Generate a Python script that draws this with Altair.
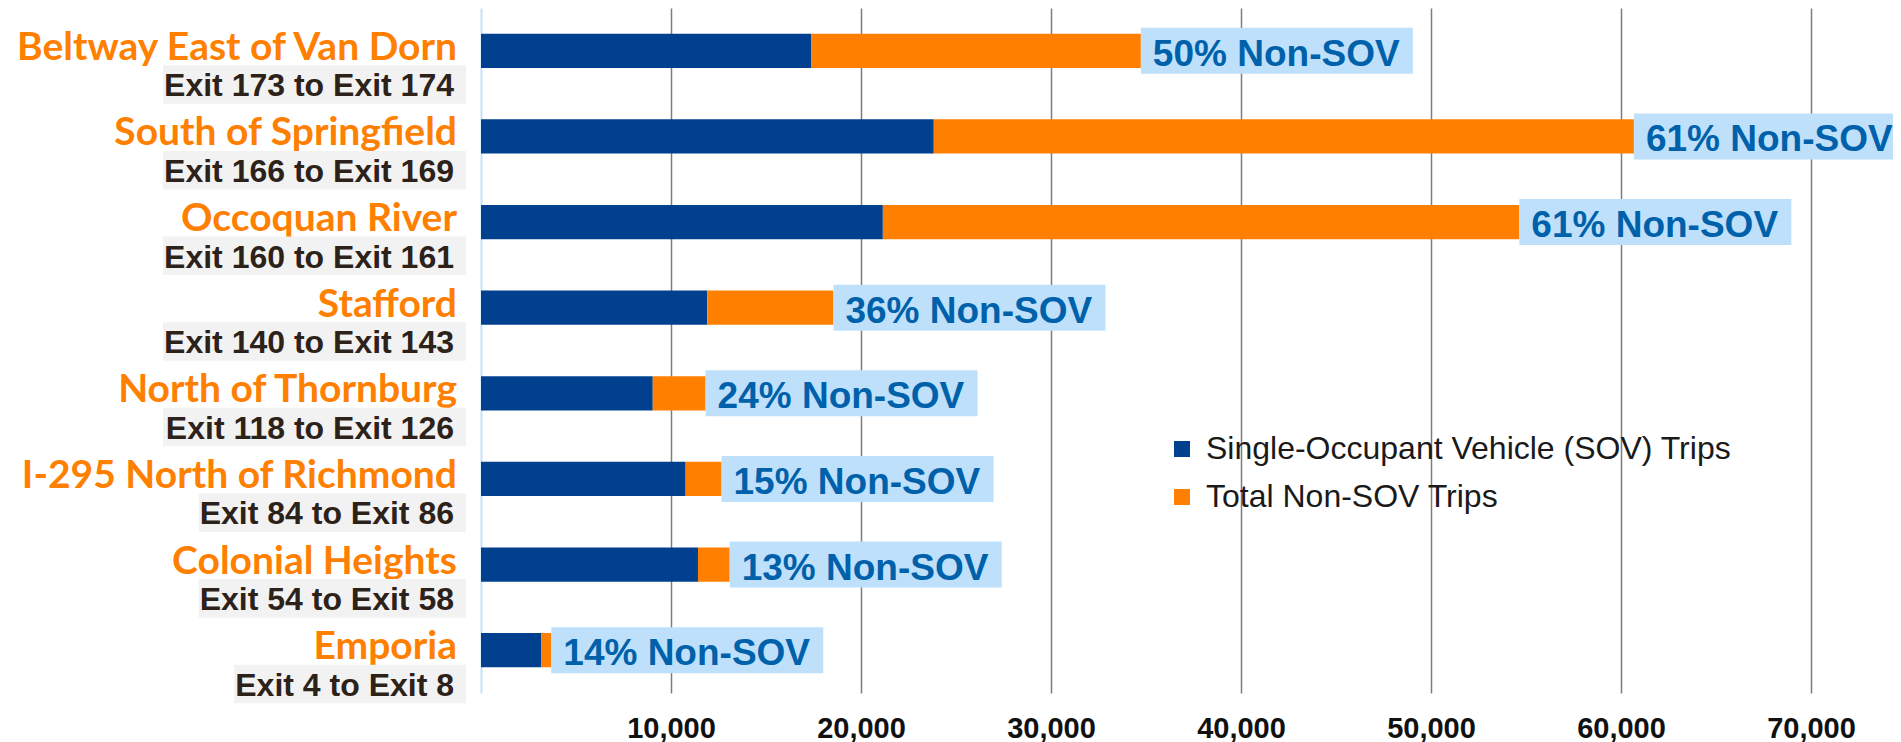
import altair as alt
import pandas as pd

# ---------------- data ----------------
names = ["Beltway East of Van Dorn", "South of Springfield", "Occoquan River", "Stafford",
         "North of Thornburg", "I-295 North of Richmond", "Colonial Heights", "Emporia"]
exits = ["Exit 173 to Exit 174", "Exit 166 to Exit 169", "Exit 160 to Exit 161",
         "Exit 140 to Exit 143", "Exit 118 to Exit 126", "Exit 84 to Exit 86",
         "Exit 54 to Exit 58", "Exit 4 to Exit 8"]
sov_trips = [17370, 23830, 21150, 11910, 9040, 10770, 11420, 3180]
non_sov_trips = [17360, 36850, 33500, 6640, 2780, 1890, 1670, 520]
pct_non_sov = [50, 61, 61, 36, 24, 15, 13, 14]
x_ticks = [10000, 20000, 30000, 40000, 50000, 60000, 70000]
series = ["Single-Occupant Vehicle (SOV) Trips", "Total Non-SOV Trips"]

# ---------------- layout ----------------
W, H = 1412, 685
PAD_L = 473
PX = 190 / 10000          # pixels per trip on the x scale
XMAX = W / PX
STEP = H / len(names)

NAVY, ORANGE = "#00408e", "#ff8000"
LBL_BLUE, LBL_BG = "#0061ab", "#bee0fb"
EXIT_FS = 32
# Arial/Liberation Sans Bold advance widths (em) for the exit labels
AW = {"E": 0.667, "x": 0.556, "i": 0.278, "t": 0.333, "o": 0.611, " ": 0.278}


def text_w(s, fs):
    return sum(AW.get(c, 0.556) for c in s) * fs


bars = pd.DataFrame({
    "idx": list(range(len(names))) * 2,
    "series": [series[0]] * len(names) + [series[1]] * len(names),
    "start": [0] * len(names) + sov_trips,
    "end": sov_trips + [s + n for s, n in zip(sov_trips, non_sov_trips)],
})

rows = pd.DataFrame({
    "idx": list(range(len(names))),
    "name": names,
    "exit": exits,
    "total": [s + n for s, n in zip(sov_trips, non_sov_trips)],
    "label": [f"{p}% Non-SOV" for p in pct_non_sov],
    "exit_w": [text_w(e, EXIT_FS) for e in exits],
})

yscale = alt.Scale(domain=[-0.5, len(names) - 0.5], reverse=True, nice=False, zero=False)
xscale = alt.Scale(domain=[0, XMAX], nice=False, zero=False)

base_bars = alt.Chart(bars).transform_calculate(
    y0="datum.idx - 0.2", y1="datum.idx + 0.2"
)

bar_layer = base_bars.mark_rect().encode(
    x=alt.X("start:Q", scale=xscale,
            axis=alt.Axis(values=x_ticks, format=",d", title=None, domain=False,
                          ticks=False, tickSize=0, labelPadding=44,
                          labelBaseline="alphabetic",
                          labelFont="Liberation Sans", labelFontWeight="bold",
                          labelFontSize=29, labelColor="#111111",
                          grid=True, gridColor="#7d7d7d", gridWidth=1.5)),
    x2="end:Q",
    y=alt.Y("y0:Q", scale=yscale,
            axis=alt.Axis(title=None, labels=False, ticks=False, grid=False,
                          domain=True, domainColor="#c5e1f8", domainWidth=2)),
    y2="y1:Q",
    color=alt.Color("series:N",
                    scale=alt.Scale(domain=series, range=[NAVY, ORANGE]),
                    legend=alt.Legend(orient="none", legendX=685, legendY=425,
                                      title=None, symbolType="square", symbolSize=256,
                                      symbolStrokeWidth=0, labelFont="Liberation Sans",
                                      labelFontSize=32, labelColor="#1a1a1a",
                                      labelLimit=0,
                                      rowPadding=16, labelOffset=8, padding=0)),
)

base_rows = alt.Chart(rows).transform_calculate(
    b0=f"datum.idx - {23 / STEP}",
    b1=f"datum.idx + {23 / STEP}",
    bx2=f"datum.total + {272 / PX}",
    g0=f"datum.idx + {14.5 / STEP}",
    g1=f"datum.idx + {53 / STEP}",
    gx0=f"(-27 - datum.exit_w - 1) / {PX}",
    gx1=f"-15 / {PX}",
)

label_bg = base_rows.mark_rect(color=LBL_BG).encode(
    x=alt.X("total:Q", scale=xscale), x2="bx2:Q",
    y=alt.Y("b0:Q", scale=yscale), y2="b1:Q",
)

label_text = base_rows.mark_text(
    align="left", baseline="alphabetic", dx=12, dy=15,
    font="Liberation Sans", fontWeight="bold", fontSize=37, color=LBL_BLUE,
).encode(
    x=alt.X("total:Q", scale=xscale),
    y=alt.Y("idx:Q", scale=yscale),
    text="label:N",
)

name_text = base_rows.mark_text(
    align="right", baseline="alphabetic", dy=9,
    font="Lato", fontWeight="bold", fontSize=39, color=ORANGE,
).encode(
    x=alt.value(-24),
    y=alt.Y("idx:Q", scale=yscale),
    text="name:N",
)

exit_bg = base_rows.mark_rect(color="#f2f2f2").encode(
    x=alt.X("gx0:Q", scale=xscale), x2="gx1:Q",
    y=alt.Y("g0:Q", scale=yscale), y2="g1:Q",
)

exit_text = base_rows.mark_text(
    align="right", baseline="alphabetic", dy=45.5,
    font="Liberation Sans", fontWeight="bold", fontSize=EXIT_FS, color="#2d2219",
).encode(
    x=alt.value(-27),
    y=alt.Y("idx:Q", scale=yscale),
    text="exit:N",
)

chart = alt.layer(
    bar_layer, label_bg, label_text, name_text, exit_bg, exit_text
).properties(
    width=W, height=H,
    padding={"left": PAD_L, "top": 0, "right": 0, "bottom": 50},
    autosize=alt.AutoSizeParams(type="none"),
    background="white",
).configure_view(strokeWidth=0)

chart.save("out.html", embed_options={"renderer": "svg", "actions": False})
